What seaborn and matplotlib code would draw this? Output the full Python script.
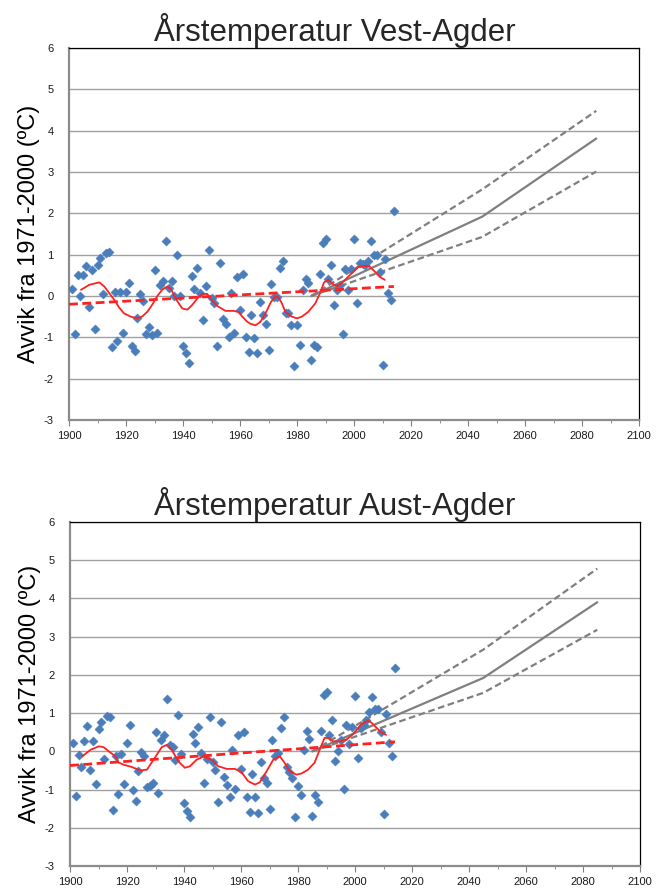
import numpy as np
import pandas as pd
import matplotlib
matplotlib.use("Agg")
import matplotlib.pyplot as plt
import seaborn as sns
from matplotlib.ticker import MultipleLocator

# ---------------- data ----------------
years = list(range(1901, 2015))

vest = [0.16, -0.93, 0.50, 0.01, 0.50, 0.72, -0.27, 0.63, -0.80, 0.76,
        0.91, 0.06, 1.04, 1.06, -1.24, 0.10, -1.10, 0.10, -0.90, 0.09,
        0.32, -1.22, -1.32, -0.54, 0.04, -0.11, -0.93, -0.75, -0.95, 0.63,
        -0.89, 0.26, 0.37, 1.34, 0.20, 0.36, 0.01, 0.98, 0.01, -1.20,
        -1.37, -1.63, 0.48, 0.18, 0.68, 0.07, -0.58, 0.23, 1.12, -0.06,
        -0.16, -1.22, 0.81, -0.55, -0.67, -1.00, 0.07, -0.89, 0.47, -0.33,
        0.53, -0.99, -1.35, -0.47, -1.01, -1.38, -0.15, -0.47, -0.67, -1.30,
        0.28, -0.02, -0.02, 0.67, 0.85, -0.42, -0.42, -0.69, -1.69, -0.69,
        -1.18, 0.15, 0.42, 0.31, -1.54, -1.18, -1.24, 0.53, 1.28, 1.38,
        0.42, 0.76, -0.21, 0.15, 0.27, -0.93, 0.65, 0.14, 0.65, 1.38,
        -0.16, 0.81, 0.78, 0.76, 0.84, 1.33, 1.00, 1.00, 0.59, -1.66,
        0.89, 0.07, -0.10, 2.06]

aust = [0.23, -1.17, -0.10, -0.42, 0.28, 0.65, -0.48, 0.26, -0.85, 0.59,
        0.77, -0.20, 0.93, 0.90, -1.54, -0.13, -1.11, -0.06, -0.85, 0.22,
        0.68, -1.02, -1.29, -0.52, -0.01, -0.13, -0.93, -0.90, -0.84, 0.50,
        -1.09, 0.29, 0.43, 1.36, 0.17, 0.11, -0.23, 0.96, -0.07, -1.35,
        -1.57, -1.71, 0.46, 0.23, 0.63, -0.04, -0.83, -0.20, 0.89, -0.29,
        -0.50, -1.33, 0.77, -0.67, -0.87, -1.20, 0.04, -0.98, 0.43, -0.46,
        0.51, -1.19, -1.59, -0.59, -1.19, -1.61, -0.29, -0.70, -0.84, -1.50,
        0.30, -0.13, -0.05, 0.61, 0.91, -0.42, -0.55, -0.70, -1.72, -0.90,
        -1.13, 0.04, 0.52, 0.33, -1.68, -1.13, -1.33, 0.52, 1.48, 1.54,
        0.43, 0.81, -0.25, 0.02, 0.29, -0.98, 0.70, 0.18, 0.64, 1.44,
        -0.17, 0.60, 0.70, 0.82, 1.02, 1.41, 1.10, 1.10, 0.51, -1.63,
        0.97, 0.22, -0.13, 2.17]

# smoothed curves
vest_smooth_x = [1904.2, 1907.1, 1910.6, 1912.4, 1914.1, 1916.0, 1917.6, 1919.3,
                 1921.7, 1924.0, 1925.8, 1927.5, 1929.3, 1931.0, 1932.8, 1934.5,
                 1935.9, 1937.4, 1939.7, 1941.5, 1943.2, 1945.0, 1946.7, 1948.5,
                 1949.6, 1952.0, 1954.9, 1957.8, 1959.6, 1960.7, 1962.5, 1963.6,
                 1965.4, 1967.1, 1968.3, 1969.5, 1970.9, 1972.4, 1973.5, 1974.7,
                 1975.9, 1978.2, 1980.0, 1981.7, 1984.0, 1986.4, 1988.1, 1989.5,
                 1991.0, 1992.8, 1994.0, 1996.3, 1998.6, 2001.5, 2003.3, 2005.4,
                 2007.3, 2009.1, 2010.8]
vest_smooth_y = [0.15, 0.27, 0.33, 0.23, 0.07, -0.10, -0.28, -0.42,
                 -0.50, -0.54, -0.49, -0.38, -0.20, 0.00, 0.16, 0.23,
                 0.15, -0.06, -0.30, -0.33, -0.22, -0.06, 0.05, 0.05,
                 -0.06, -0.24, -0.36, -0.36, -0.39, -0.49, -0.62, -0.67,
                 -0.71, -0.63, -0.50, -0.34, -0.14, -0.02, -0.03, -0.18,
                 -0.38, -0.50, -0.54, -0.50, -0.38, -0.18, 0.07, 0.33,
                 0.39, 0.28, 0.23, 0.35, 0.51, 0.70, 0.73, 0.72,
                 0.59, 0.46, 0.39]

aust_smooth_x = [1904.3, 1907.2, 1910.1, 1911.8, 1913.6, 1915.9, 1917.0, 1918.8,
                 1921.7, 1924.6, 1927.0, 1929.3, 1932.2, 1934.0, 1935.7, 1938.0,
                 1940.3, 1942.1, 1944.4, 1946.8, 1949.7, 1952.0, 1955.0, 1957.9,
                 1960.2, 1962.5, 1964.9, 1966.6, 1969.0, 1971.3, 1973.6, 1975.3,
                 1977.1, 1979.4, 1981.2, 1983.5, 1985.8, 1987.6, 1989.3, 1990.7,
                 1992.3, 1994.6, 1996.9, 1999.3, 2002.2, 2004.5, 2005.6, 2007.4,
                 2009.1, 2010.9]
aust_smooth_y = [-0.13, 0.04, 0.13, 0.11, 0.00, -0.13, -0.29, -0.35,
                 -0.41, -0.50, -0.48, -0.22, 0.11, 0.17, 0.04, -0.26,
                 -0.43, -0.39, -0.22, -0.14, -0.22, -0.39, -0.46, -0.46,
                 -0.55, -0.78, -0.87, -0.81, -0.52, -0.22, -0.13, -0.30,
                 -0.52, -0.61, -0.58, -0.48, -0.30, 0.04, 0.35, 0.35,
                 0.26, 0.26, 0.30, 0.45, 0.71, 0.80, 0.76, 0.63,
                 0.50, 0.43]

# linear trends
trend_x = [1900, 2014]
vest_trend = [-0.20, 0.23]
aust_trend = [-0.37, 0.25]

# scenarios
scen_x = [1985, 2045, 2085]
vest_mid = [0.0, 1.92, 3.81]
vest_hi = [0.0, 2.58, 4.48]
vest_lo = [0.0, 1.43, 3.01]
aust_mid = [0.0, 1.92, 3.90]
aust_hi = [0.0, 2.66, 4.78]
aust_lo = [0.0, 1.53, 3.18]

titles = ["Årstemperatur Vest-Agder", "Årstemperatur Aust-Agder"]
ylabel = "Avvik fra 1971-2000 (ºC)"

# ---------------- style ----------------
sns.set_theme(style="white")
plt.rcParams["font.family"] = ["Liberation Sans", "DejaVu Sans"]
plt.rcParams["axes.unicode_minus"] = False

W, H = 669, 891
fig = plt.figure(figsize=(W / 100, H / 100), dpi=100)

def px_axes(l, t, r, b):
    return fig.add_axes([l / W, 1 - b / H, (r - l) / W, (b - t) / H])

ax1 = px_axes(69, 48, 639, 420)
ax2 = px_axes(70, 522, 640, 866)

panels = [
    (ax1, vest, vest_smooth_x, vest_smooth_y, vest_trend, vest_mid, vest_hi, vest_lo, 30),
    (ax2, aust, aust_smooth_x, aust_smooth_y, aust_trend, aust_mid, aust_hi, aust_lo, 505),
]

blue = "#4a7ebb"
red = "#ff2020"
gray = "#7f7f7f"

for i, (ax, vals, sx, sy, tr, mid, hi, lo, ty) in enumerate(panels):
    df = pd.DataFrame({"year": years, "val": vals})
    dfs = pd.DataFrame({"x": sx, "y": sy})
    dft = pd.DataFrame({"x": trend_x, "y": tr})

    ax.grid(False)
    for yv in range(-2, 7):
        ax.axhline(yv, color="#a0a0a0", lw=1.0, zorder=0)

    sns.lineplot(x=scen_x, y=mid, ax=ax, color=gray, lw=1.6, sort=False,
                 estimator=None, zorder=2)
    sns.lineplot(x=scen_x, y=hi, ax=ax, color=gray, lw=1.6, sort=False,
                 estimator=None, zorder=2).lines[-1].set_dashes([3, 1.6])
    sns.lineplot(x=scen_x, y=lo, ax=ax, color=gray, lw=1.6, sort=False,
                 estimator=None, zorder=2).lines[-1].set_dashes([3, 1.6])

    sns.scatterplot(data=df, x="year", y="val", ax=ax, marker="D", s=22,
                    color=blue, edgecolor=blue, linewidth=0.3, zorder=3)

    sns.lineplot(data=dft, x="x", y="y", ax=ax, color=red, lw=2.0, sort=False,
                 estimator=None, zorder=4).lines[-1].set_dashes([3.2, 1.6])
    sns.lineplot(data=dfs, x="x", y="y", ax=ax, color=red, lw=1.3, sort=False,
                 estimator=None, zorder=4)

    ax.set_xlim(1900, 2100)
    ax.set_ylim(-3, 6)
    ax.xaxis.set_major_locator(MultipleLocator(20))
    ax.xaxis.set_minor_locator(MultipleLocator(10))
    ax.yaxis.set_major_locator(MultipleLocator(1))
    ax.tick_params(axis="x", which="major", direction="out", length=4, width=0.8,
                   color="#808080", labelsize=8, pad=4, bottom=True)
    ax.tick_params(axis="x", which="minor", direction="out", length=2, width=0.6,
                   color="#808080", bottom=True)
    ax.tick_params(axis="y", length=0, labelsize=8, pad=11)
    for lab in ax.get_xticklabels() + ax.get_yticklabels():
        lab.set_color("#1a1a1a")

    for s in ["left", "bottom"]:
        ax.spines[s].set_color("#8c8c8c")
        ax.spines[s].set_linewidth(1.6)
    for s in ["top", "right"]:
        ax.spines[s].set_color("black")
        ax.spines[s].set_linewidth(0.9)
        ax.spines[s].set_visible(True)

    ax.set_xlabel("")
    ax.set_ylabel(ylabel, fontsize=17, color="black")
    ax.yaxis.set_label_coords(-0.05, 0.5)

    fig.text(0.5, 1 - ty / H, titles[i], ha="center", va="center", fontsize=22.5,
             family=["Liberation Sans Narrow", "Liberation Sans", "DejaVu Sans"])

fig.savefig("out.png", dpi=100)
